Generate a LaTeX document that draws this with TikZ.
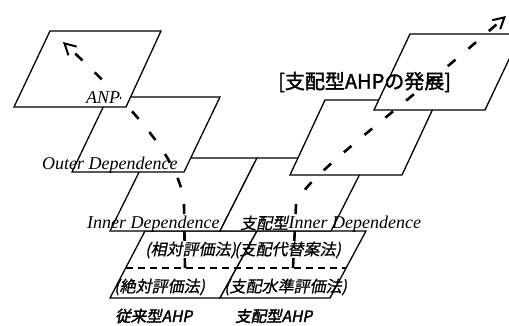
\documentclass[tikz,border=0pt]{standalone}
\usepackage{fontspec}
\setmainfont{Liberation Serif}
\newfontfamily\cjk[FakeSlant=0.2,FakeBold=0.8]{Noto Sans CJK JP}
\newfontfamily\cjkbf[FakeSlant=0.2,FakeBold=2.2]{Noto Sans CJK JP}
\newfontfamily\cjkhead[FakeBold=1.6]{Noto Sans CJK JP}
\usetikzlibrary{arrows.meta}
\begin{document}
\begin{tikzpicture}[x=1pt,y=-1pt,
  plane/.style={draw=black,fill=white,line width=1.3pt,line join=miter},
  lat/.style={font=\fontsize{18}{18}\selectfont\itshape,inner sep=0pt},
  jp/.style={font=\fontsize{16}{16}\selectfont\cjk,inner sep=0pt},
  jpbf/.style={font=\fontsize{15.5}{15.5}\selectfont\cjkbf,inner sep=0pt},
  head/.style={font=\fontsize{20}{20}\selectfont\cjkhead,inner sep=0pt},
  sep/.style={line width=1.3pt,dash pattern=on 7pt off 5pt},
  flow/.style={line width=2.6pt,dash pattern=on 10pt off 17pt,
    -{Straight Barb[length=11pt,width=12pt,line width=2pt]}}]
\useasboundingbox (0,0) rectangle (509,326);
\clip (0,0) rectangle (509,326);
% bottom planes
\filldraw[plane] (145,231) -- (257,231) -- (220,298) -- (110,298) -- cycle;
\filldraw[plane] (257,231) -- (366,231) -- (330,298) -- (220,298) -- cycle;
\draw[sep] (126,268) -- (346,268);
% inner dependence planes
\filldraw[plane] (146,158) -- (257,158) -- (220,231) -- (110,231) -- cycle;
\filldraw[plane] (257,158) -- (368,158) -- (331,231) -- (220,231) -- cycle;
% outer dependence and ANP
\filldraw[plane] (108,97) -- (220,97) -- (184,172) -- (72,172) -- cycle;
\filldraw[plane] (50,31) -- (161,31) -- (126,107) -- (14,107) -- cycle;
% right stack upper planes
\filldraw[plane] (325,100) -- (437,100) -- (402,175) -- (290,175) -- cycle;
\filldraw[plane] (410,34) -- (521,34) -- (485,110) -- (374,110) -- cycle;
% dashed development arrows
\coordinate (ls) at (185,268);
\coordinate (lm) at (184,205);
\coordinate (le) at (63,42);
\draw[flow] (ls) -- (lm) .. controls (182,160) and (130,105) .. (le);
\coordinate (rs) at (293,268);
\coordinate (rm) at (296,205);
\coordinate (re) at (506,16);
\draw[flow] (rs) -- (rm) .. controls (300,180) and (400,110) .. (re);
% labels
\node[lat,anchor=base west,fill=white] (anp) at (86,104) {ANP};
\node[lat,anchor=base west] (outer) at (42,170) {Outer Dependence};
\node[lat,anchor=base west] (inner) at (87,229) {Inner Dependence};
\node[jp,anchor=base west] (shihai) at (240,229) {支配型};
\node[lat,anchor=base west] (inner2) at (shihai.base east) {Inner Dependence};
\node[jp,anchor=west] (soutai) at (145,250) {(相対評価法)};
\node[jp,anchor=west] (daitai) at (234,250) {(支配代替案法)};
\node[jp,anchor=west] (zettai) at (114,287) {(絶対評価法)};
\node[jp,anchor=west] (suijun) at (224,287) {(支配水準評価法)};
\node[jpbf,anchor=west] (juurai) at (115,316) {従来型AHP};
\node[jpbf,anchor=west] (shihaiahp) at (235,316) {支配型AHP};
\node[head,anchor=west] (title) at (278,82) {[支配型AHPの発展]};
\end{tikzpicture}
\end{document}
